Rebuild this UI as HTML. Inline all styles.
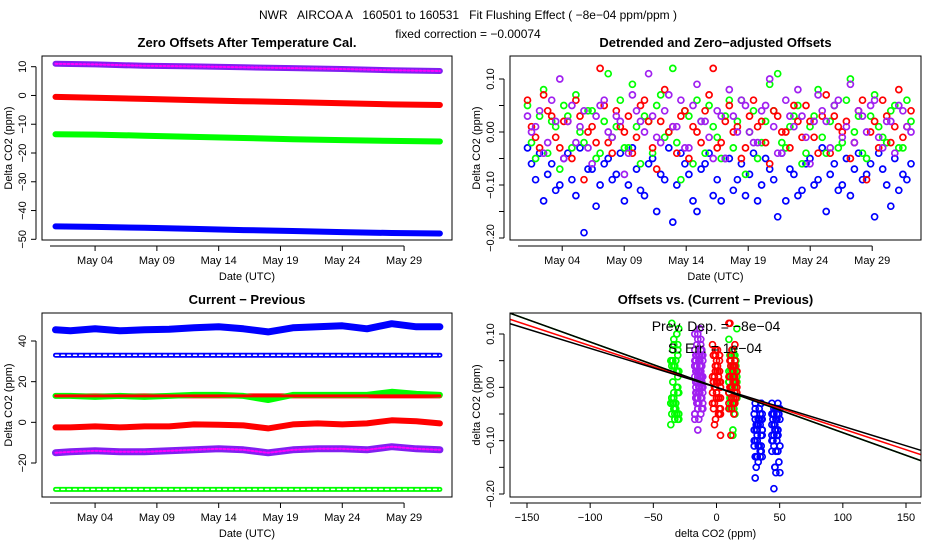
<!DOCTYPE html>
<html><head><meta charset="utf-8"><style>
body{margin:0;background:#fff}
svg{display:block;font-family:"Liberation Sans",sans-serif}
.t{font-size:12px}
.pt{font-size:13px;font-weight:bold}
.ax{font-size:11px}
</style></head><body>
<svg id="c" width="936" height="540" viewBox="0 0 936 540">
<text x="468" y="19" text-anchor="middle" class="t" xml:space="preserve">NWR   AIRCOA A   160501 to 160531   Fit Flushing Effect ( −8e−04 ppm/ppm )</text>
<text x="468" y="38" text-anchor="middle" class="t">fixed correction = −0.00074</text>
</svg>
<script>
// ---- data ----
const p1Days=[0.8,4,8,12,16,20,24,28,31.9];
const p1Purple=[11,10.8,10.3,10.1,9.8,9.5,9.2,8.8,8.5];
const p1Red=[-0.5,-0.8,-1.2,-1.6,-2,-2.3,-2.7,-3.1,-3.3];
const p1Green=[-13.5,-13.6,-14,-14.4,-14.8,-15.2,-15.5,-15.8,-16];
const p1Blue=[-45.5,-45.7,-46,-46.4,-46.8,-47.1,-47.5,-47.8,-48];
const p1YTicks=[10,0,-10,-20,-30,-40,-50];
const dateTicks=[4,9,14,19,24,29];
const dateLabels=["May 04","May 09","May 14","May 19","May 24","May 29"];

const p2Blue=[-0.03,-0.09,-0.13,-0.06,-0.10,-0.04,-0.12,-0.19,-0.07,-0.10,-0.05,-0.08,-0.13,-0.03,-0.11,-0.06,-0.15,-0.09,-0.17,-0.04,-0.08,-0.15,-0.06,-0.12,-0.13,-0.05,-0.09,-0.12,-0.04,-0.10,-0.07,-0.16,-0.13,-0.08,-0.11,-0.05,-0.09,-0.15,-0.06,-0.10,-0.12,-0.04,-0.08,-0.16,-0.07,-0.14,-0.11,-0.09];
const p2Green=[0.05,-0.05,0.08,0.02,-0.07,0.03,0.07,-0.02,0.04,-0.04,0.11,0.01,-0.03,0.09,-0.06,0.02,0.05,-0.01,0.12,-0.09,0.03,0.06,-0.04,0.01,-0.05,0.06,0.02,-0.08,0.04,-0.02,0.09,0.11,-0.03,0.03,-0.06,0.01,0.08,-0.04,0.05,-0.02,0.10,0.03,-0.05,0.07,-0.01,0.04,-0.03,0.06];
const p2Red=[0.06,-0.01,0.07,0.03,-0.03,0.02,0.06,-0.09,0.01,0.12,-0.02,0.04,0.00,-0.04,0.05,0.02,-0.07,0.08,0.01,0.03,-0.05,0.00,0.04,0.12,-0.02,0.05,0.01,-0.03,0.06,0.02,-0.06,0.03,0.00,0.05,-0.01,0.02,-0.04,0.07,0.03,0.00,-0.05,0.04,-0.09,0.02,0.06,-0.02,0.08,0.01];
const p2Purple=[0.03,0.01,-0.04,0.06,0.10,0.02,-0.02,0.04,-0.06,0.05,0.00,0.03,-0.08,0.07,0.02,0.11,-0.01,0.04,0.01,0.06,-0.03,0.09,0.02,-0.05,0.03,0.08,0.00,0.05,-0.02,0.04,0.10,-0.04,0.06,0.01,0.03,-0.06,0.07,0.02,0.05,-0.01,0.09,0.04,0.00,0.06,-0.03,0.02,0.05,0.01];
const p2Blue2=[-0.06,-0.04,-0.08,-0.11,-0.05,-0.09,-0.03,-0.07,-0.14,-0.06,-0.09,-0.04,-0.10,-0.07,-0.12,-0.05,-0.08,-0.03,-0.10,-0.06,-0.13,-0.07,-0.04,-0.09,-0.05,-0.11,-0.06,-0.08,-0.13,-0.05,-0.09,-0.04,-0.07,-0.12,-0.06,-0.10,-0.03,-0.08,-0.11,-0.05,-0.07,-0.09,-0.06,-0.04,-0.10,-0.05,-0.08,-0.06];
const p2Green2=[-0.02,0.03,-0.04,0.01,0.05,-0.03,0.00,0.04,-0.05,0.02,-0.01,0.06,-0.03,0.01,0.03,-0.04,0.07,0.00,-0.02,0.04,-0.06,0.02,0.05,-0.01,0.03,-0.03,0.06,0.00,-0.05,0.02,0.04,-0.02,0.01,0.05,-0.04,0.03,-0.01,0.02,-0.03,0.06,0.00,-0.04,0.03,0.01,-0.02,0.05,-0.03,0.02];
const p2Red2=[0.01,-0.03,0.04,-0.01,0.02,-0.05,0.03,0.00,-0.02,0.05,-0.04,0.01,0.03,-0.01,0.06,-0.03,0.02,0.00,-0.04,0.04,0.01,-0.02,0.07,-0.03,0.02,0.00,-0.05,0.03,0.01,-0.02,0.04,0.00,-0.03,0.02,0.05,-0.01,0.03,-0.04,0.01,0.02,-0.02,0.06,0.00,-0.03,0.03,0.01,-0.01,0.04];
const p2Purple2=[0.00,0.04,-0.02,0.02,-0.05,0.05,0.01,-0.03,0.03,0.06,-0.01,0.02,-0.04,0.04,0.00,0.03,-0.02,0.07,0.01,-0.03,0.05,0.02,-0.01,0.04,-0.05,0.03,0.06,0.00,-0.02,0.05,0.01,-0.04,0.03,0.08,-0.01,0.02,0.04,-0.03,0.06,0.01,-0.02,0.03,0.05,-0.01,0.02,-0.04,0.04,0.00];
const p2YTicks=[0.10,0.05,0.00,-0.05,-0.10,-0.15,-0.20];
const p2YLabels=["0.10","","0.00","","\u22120.10","","\u22120.20"];

const p3Days=[0.8,2,4,6,8,10,12,14,16,18,20,22,24,26,28,30,31.9];
const p3Blue=[45.5,45,46,45,45.5,45.8,46.5,47,46,44.5,46.5,47,47.5,46,48.5,47,47];
const p3Red=[-2.5,-2.5,-2,-2.5,-2,-2,-1,-1.2,-1.5,-3,-1,-0.5,-1,-0.5,1,0.5,-0.5];
const p3Purple=[-15,-14.5,-14,-14.5,-14.5,-14,-13.5,-13,-13.5,-15,-13.5,-13,-13,-13.5,-12,-13,-13.5];
const p3Green=[13,13,12.5,13,12.5,13,13.5,13.5,13,11,13.5,13.5,13.5,13.5,15,14,13.5];
const p3ConstVals=[33,13,-33];
const p3ConstColors=["#0000ff","#ff0000","#00ff00"];
const p3YTicks=[40,20,0,-20];

const p4BlueX=[33,47], p4GreenX=[-33,13], p4RedX=[0,13], p4PurpleX=[-14];
const p4Jitter=[-3,2,-1,4,-4,1,3,-2,0,-3,4,2,-1,-4,3,1,-2,2,-3,0,4,-1,1,-4,2,-2,3,0,-3,1,-1,4,-2,2,0,-4,3,-1,1,-3,2,-2,4,0,-1,3,-4,1];
const p4XTicks=[-150,-100,-50,0,50,100,150];
const p4Slopes=[-8.5e-4,-7.8e-4,-7.3e-4,-8.5e-4];
const p4Intercepts=[0.0,0.0,0.0,0.0];
const p4LineColors=["#00c000","#ff0000","#000000","#000000"];

// ---- helpers ----
const svg=document.getElementById('c');
const NS='http://www.w3.org/2000/svg';
function mk(tag,attrs,parent){const e=document.createElementNS(NS,tag);for(const k in attrs)e.setAttribute(k,attrs[k]);(parent||svg).appendChild(e);return e;}
function lin(d0,d1,r0,r1){return v=>r0+(v-d0)*(r1-r0)/(d1-d0);}
function fmt(v){return String(v).replace('-','\u2212');}

function panel(name,box,title,xlab,ylab){
  const g=mk('g',{});
  
  
  const t=mk('text',{x:(box.x0+box.x1)/2,y:box.y0-9,'text-anchor':'middle',class:'pt'},g);t.textContent=title;
  
  
  const xl=mk('text',{x:(box.x0+box.x1)/2,y:box.y1+40,'text-anchor':'middle',class:'ax'},g);xl.textContent=xlab;
  
  
  const cy=(box.y0+box.y1)/2;
  const yl=mk('text',{x:box.x0-30,y:cy,'text-anchor':'middle',class:'ax',transform:`rotate(-90 ${box.x0-30} ${cy})`},g);yl.textContent=ylab;
  
  
  const plot=mk('g',{},g);
  
  
  return {g,plot,box};
}
function frame(p){const b=p.box;const r=mk('rect',{x:b.x0,y:b.y0,width:b.x1-b.x0,height:b.y1-b.y0,fill:'none',stroke:'#000','stroke-width':1},p.g);
  
  }
function yAxis(p,ticks,labels,sy){const b=p.box;const ax=mk('g',{},p.g);
  
  
  mk('line',{x1:b.x0-6,x2:b.x0-6,y1:sy(ticks[0]),y2:sy(ticks[ticks.length-1]),stroke:'#000'},ax);
  ticks.forEach((v,i)=>{const y=sy(v);mk('line',{x1:b.x0-11,x2:b.x0-6,y1:y,y2:y,stroke:'#000'},ax);
    const lab=labels[i];if(lab==='')return;
    const t=mk('text',{x:b.x0-16,y:y,'text-anchor':'middle',class:'ax',transform:`rotate(-90 ${b.x0-16} ${y})`},ax);t.textContent=lab;
    
    });}
function xAxis(p,ticks,labels,sx,full){const b=p.box;const ax=mk('g',{},p.g);
  
  
  const ya=b.y1+6;
  if(full) mk('line',{x1:b.x0,x2:b.x1,y1:ya,y2:ya,stroke:'#000'},ax);
  else mk('line',{x1:b.x0+8,x2:sx(ticks[ticks.length-1]),y1:ya,y2:ya,stroke:'#000'},ax);
  ticks.forEach((v,i)=>{const x=sx(v);mk('line',{x1:x,x2:x,y1:ya,y2:ya+5,stroke:'#000'},ax);
    const t=mk('text',{x:x,y:b.y1+24,'text-anchor':'middle',class:'ax'},ax);t.textContent=labels[i];
    
    });}
function thickLine(parent,xs,ys,sx,sy,color,w,name){
  const pts=xs.map((x,i)=>sx(x).toFixed(1)+','+sy(ys[i]).toFixed(1)).join(' ');
  const l=mk('polyline',{points:pts,fill:'none',stroke:color,'stroke-width':w,'stroke-linejoin':'round','stroke-linecap':'round'},parent);
  
  
  return l;}

// ---- panel 1 ----
{const p=panel('zero-offsets-panel',{x0:42,x1:452,y0:56,y1:240},'Zero Offsets After Temperature Cal.','Date (UTC)','Delta CO2 (ppm)');
 const X=lin(1,26,58,367),Y=lin(10,-50,66.7,239.3);
 thickLine(p.plot,p1Days,p1Purple,X,Y,'#8020f0',6,'series-purple');
 const pm=thickLine(p.plot,p1Days,p1Purple,X,Y,'#ff00ff',2,'series-purple-texture');pm.setAttribute('stroke-dasharray','2 2');
 thickLine(p.plot,p1Days,p1Red,X,Y,'#ff0000',6,'series-red');
 thickLine(p.plot,p1Days,p1Green,X,Y,'#00ff00',6,'series-green');
 thickLine(p.plot,p1Days,p1Blue,X,Y,'#0000ff',6,'series-blue');
 yAxis(p,p1YTicks,p1YTicks.map(fmt),Y);
 xAxis(p,dateTicks,dateLabels,X,false);
 frame(p);}

// ---- panel 2 ----
{const p=panel('detrended-offsets-panel',{x0:510,x1:921,y0:56,y1:240},'Detrended and Zero\u2212adjusted Offsets','Date (UTC)','Delta CO2 (ppm)');
 const X=lin(1,26,525,835),Y=lin(0.10,-0.20,79,238);
 const n=p2Blue.length, step=(31.8-1.2)/(n-1);
 const days=p2Blue.map((_,i)=>1.2+i*step);
 const days2=p2Blue.map((_,i)=>1.2+step/2+i*step);
 [[p2Blue,p2Blue2,'#0000ff','blue'],[p2Green,p2Green2,'#00ff00','green'],[p2Red,p2Red2,'#ff0000','red'],[p2Purple,p2Purple2,'#a020f0','purple']].forEach(([arr,arr2,col,nm])=>{
   const g=mk('g',{},p.plot);
   
   
   [[arr,days],[arr2,days2]].forEach(([a,d])=>a.forEach((v,i)=>{const c=mk('circle',{cx:X(d[i]).toFixed(1),cy:Y(v).toFixed(1),r:3,fill:'none',stroke:col,'stroke-width':1.7},g);
     
     }));
 });
 yAxis(p,p2YTicks,p2YLabels,Y);
 xAxis(p,dateTicks,dateLabels,X,false);
 frame(p);}

// ---- panel 3 ----
{const p=panel('current-minus-previous-panel',{x0:42,x1:452,y0:313,y1:497},'Current \u2212 Previous','Date (UTC)','Delta CO2 (ppm)');
 const X=lin(1,26,58,367),Y=lin(40,-20,341,463);
 p3ConstVals.forEach((v,i)=>{thickLine(p.plot,[0.8,31.9],[v,v],X,Y,p3ConstColors[i],5,'constant-series-'+i);
   const d=thickLine(p.plot,[0.8,31.9],[v,v],X,Y,'#ffffff',1.5,'constant-series-hollow-'+i);d.setAttribute('stroke-dasharray','3 3');});
 thickLine(p.plot,p3Days,p3Green,X,Y,'#00ff00',6,'series-green');
 thickLine(p.plot,[0.8,31.9],[13,13],X,Y,'#ff0000',3,'series-red-13');
 thickLine(p.plot,p3Days,p3Blue,X,Y,'#0000ff',7,'series-blue');
 thickLine(p.plot,p3Days,p3Red,X,Y,'#ff0000',6,'series-red');
 thickLine(p.plot,p3Days,p3Purple,X,Y,'#8020f0',7,'series-purple');
 const pm=thickLine(p.plot,p3Days,p3Purple,X,Y,'#ff00ff',2,'series-purple-texture');pm.setAttribute('stroke-dasharray','2 2');
 yAxis(p,p3YTicks,p3YTicks.map(fmt),Y);
 xAxis(p,dateTicks,dateLabels,X,false);
 frame(p);}

// ---- panel 4 ----
{const p=panel('offsets-vs-difference-panel',{x0:510,x1:921,y0:313,y1:497},'Offsets vs. (Current \u2212 Previous)','delta CO2 (ppm)','delta CO2 (ppm)');
 const X=lin(-150,150,527,906),Y=lin(0.10,-0.20,334,494);
 const clip=mk('clipPath',{id:'cp4'});mk('rect',{x:510,y:313,width:411,height:184},clip);
 const cg=mk('g',{'clip-path':'url(#cp4)'},p.plot);
 
 
 [[p2Green,p2Green2,p4GreenX,'#00ff00','green'],[p2Purple,p2Purple2,p4PurpleX,'#a020f0','purple'],[p2Red,p2Red2,p4RedX,'#ff0000','red'],[p2Blue,p2Blue2,p4BlueX,'#0000ff','blue']].forEach(([arr,arr2,xs,col,nm])=>{
   [arr,arr2].forEach(a=>a.forEach((v,i)=>{const c=mk('circle',{cx:(X(xs[i%xs.length])+p4Jitter[i]).toFixed(1),cy:Y(v).toFixed(1),r:3,fill:'none',stroke:col,'stroke-width':1.7},cg);
     
     }));
 });
 p4Slopes.forEach((s,i)=>{const l=mk('line',{x1:X(-170),y1:Y(p4Intercepts[i]+s*-170),x2:X(170),y2:Y(p4Intercepts[i]+s*170),stroke:p4LineColors[i],'stroke-width':1.5},cg);
   
   });
 const t1=mk('text',{x:716,y:331,'text-anchor':'middle',style:'font-size:14px'},p.g);t1.textContent='Prev. Dep. = \u22128e\u221204';
 
 
 const t2=mk('text',{x:715,y:353,'text-anchor':'middle',style:'font-size:14px'},p.g);t2.textContent='S. Err. = 1e\u221204';
 
 
 yAxis(p,p2YTicks,p2YLabels,Y);
 xAxis(p,p4XTicks,p4XTicks.map(fmt),X,true);
 frame(p);}
</script>
</body></html>
